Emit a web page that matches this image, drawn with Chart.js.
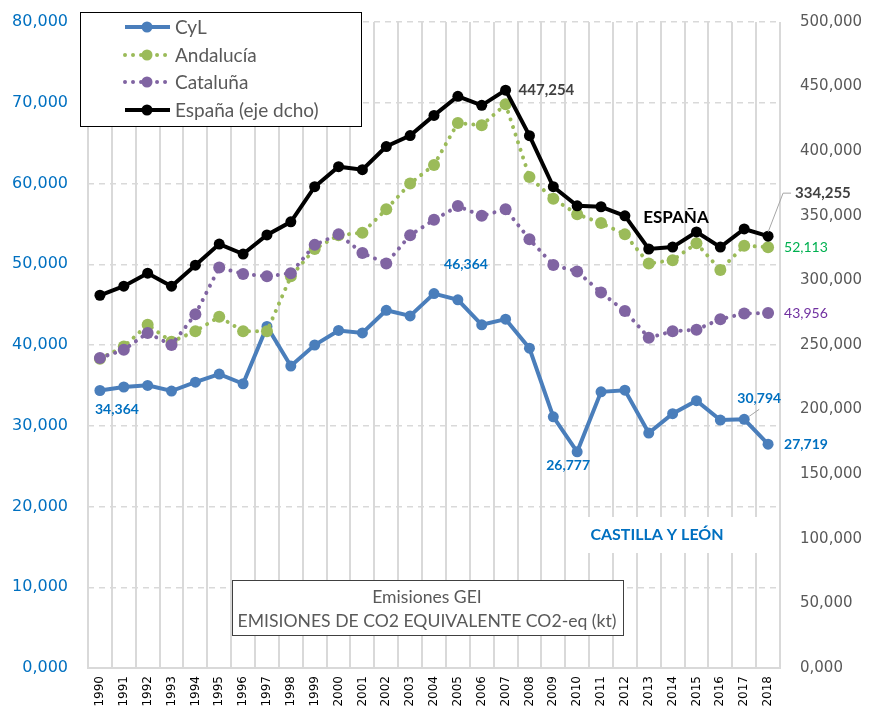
<!DOCTYPE html>
<html>
<head>
<meta charset="utf-8">
<script src="https://cdn.jsdelivr.net/npm/chart.js@4.4.1/dist/chart.umd.min.js"></script>
<style>
  html, body { margin: 0; padding: 0; background: #fff; }
</style>
</head>
<body>
<canvas id="chart" width="870" height="706"></canvas>
<script>
// ---- data (kt CO2-eq) ----
const years = ["1990","1991","1992","1993","1994","1995","1996","1997","1998","1999",
  "2000","2001","2002","2003","2004","2005","2006","2007","2008","2009",
  "2010","2011","2012","2013","2014","2015","2016","2017","2018"];

const cyl = [34364, 34800, 35000, 34300, 35400, 36400, 35200, 42300, 37400, 40000,
  41800, 41500, 44300, 43600, 46364, 45600, 42500, 43200, 39600, 31100,
  26777, 34200, 34400, 29100, 31500, 33100, 30700, 30794, 27719];

const andalucia = [38300, 39800, 42500, 40400, 41700, 43500, 41700, 41700, 48500, 51900,
  53600, 53900, 56800, 60000, 62300, 67500, 67200, 69800, 60800, 58100,
  56200, 55100, 53700, 50100, 50500, 52600, 49300, 52300, 52113];

const cataluna = [38400, 39400, 41500, 40000, 43800, 49600, 48800, 48500, 48900, 52400,
  53700, 51400, 50100, 53600, 55500, 57200, 56000, 56800, 53100, 49900,
  49100, 46500, 44200, 40900, 41700, 41900, 43200, 43900, 43956];

const espana = [288500, 295500, 305600, 295500, 311800, 328100, 320400, 335200, 345300, 372500,
  388000, 385700, 403600, 412100, 427700, 442500, 435500, 447254, 412000, 372500,
  357700, 357000, 350000, 324300, 325800, 337500, 325800, 339800, 334255];

const seriesNames = ["CyL", "Andalucía", "Cataluña", "España (eje dcho)"];
const leftTicks = [0, 80000, 10000];    // min, max, step
const rightTicks = [0, 500000, 50000];
const titleLines = ["Emisiones GEI", "EMISIONES DE CO2 EQUIVALENTE CO2-eq (kt)"];

const fmt = v => v === 0 ? "0,000" : v.toLocaleString("en-US");

// ---- decorations: legend, title box, value labels ----
const decor = {
  id: "decor",
  afterDraw(chart) {
    const ctx = chart.ctx;
    const pt = (d, i) => chart.getDatasetMeta(d).data[i];
    ctx.save();

    // white patch behind CASTILLA Y LEÓN
    ctx.fillStyle = "#fff";
    ctx.fillRect(577, 517, 192, 36);
    ctx.font = "bold 16px Lato";
    ctx.fillStyle = "#0070C0";
    ctx.textAlign = "center";
    ctx.textBaseline = "middle";
    ctx.fillText("CASTILLA Y LEÓN", 657, 535);

    ctx.font = "bold 17px Lato";
    ctx.fillStyle = "#000";
    ctx.fillText("ESPAÑA", 676, 218);

    // value labels
    function label(d, i, dx, dy, color, font, align) {
      const p = pt(d, i);
      const v = chart.data.datasets[d].data[i];
      ctx.font = font;
      ctx.fillStyle = color;
      ctx.textAlign = align || "center";
      ctx.fillText(v.toLocaleString("en-US"), p.x + dx, p.y + dy);
    }
    const blueFont = "bold 14px Lato";
    label(0, 0, 17, 19, "#0070C0", blueFont);
    label(0, 14, 32, -29, "#0070C0", blueFont);
    label(0, 20, -9, 14, "#0070C0", blueFont);
    label(0, 27, 15, -21, "#0070C0", blueFont);
    label(0, 28, 16, 0, "#0070C0", blueFont, "left");
    label(1, 28, 16, 0, "#00B050", "14px Lato", "left");
    label(2, 28, 16, 0, "#7030A0", "14px Lato", "left");
    label(3, 17, 13, 0, "#404040", "bold 15px Lato", "left");
    label(3, 28, 27, -43, "#404040", "bold 15px Lato", "left");

    // leader lines
    ctx.strokeStyle = "#a6a6a6";
    ctx.lineWidth = 1;
    ctx.setLineDash([]);
    let p = pt(0, 27);
    ctx.beginPath(); ctx.moveTo(p.x + 5, p.y - 3); ctx.lineTo(p.x + 15, p.y - 10); ctx.stroke();
    p = pt(3, 28);
    ctx.beginPath(); ctx.moveTo(p.x, p.y - 4); ctx.lineTo(p.x + 15, p.y - 43); ctx.lineTo(p.x + 23, p.y - 43); ctx.stroke();

    // legend
    ctx.fillStyle = "#fff";
    ctx.fillRect(80, 12, 281, 114);
    ctx.strokeStyle = "#000";
    ctx.lineWidth = 1;
    ctx.strokeRect(80.5, 12.5, 281, 114);
    const rows = [27, 55, 82, 110];
    chart.data.datasets.forEach((ds, k) => {
      const y = rows[k];
      ctx.strokeStyle = ds.borderColor;
      ctx.lineWidth = ds.borderWidth;
      ctx.lineCap = ds.borderCapStyle || "butt";
      ctx.setLineDash(ds.borderDash || []);
      ctx.beginPath(); ctx.moveTo(125, y); ctx.lineTo(170, y); ctx.stroke();
      ctx.setLineDash([]);
      ctx.fillStyle = ds.pointBackgroundColor;
      ctx.beginPath(); ctx.arc(147, y, 5.5, 0, Math.PI * 2); ctx.fill();
      ctx.fillStyle = "#595959";
      ctx.font = "19px Lato";
      ctx.textAlign = "left";
      ctx.fillText(ds.label, 175, y + 1);
    });

    // title box
    ctx.fillStyle = "#fff";
    ctx.fillRect(232, 580, 391, 55);
    ctx.strokeStyle = "#404040";
    ctx.lineWidth = 1;
    ctx.strokeRect(232.5, 580.5, 391, 55);
    ctx.fillStyle = "#595959";
    ctx.font = "17.6px Lato";
    ctx.textAlign = "center";
    ctx.fillText(titleLines[0], 427, 597);
    ctx.fillText(titleLines[1], 427, 621);

    ctx.restore();
  }
};

function lineSet(label, data, color, axis, dotted, order) {
  return {
    label: label,
    data: data,
    yAxisID: axis,
    borderColor: color,
    backgroundColor: color,
    pointBackgroundColor: color,
    pointBorderColor: color,
    borderWidth: 4,
    borderDash: dotted ? [0.01, 8] : [],
    borderCapStyle: dotted ? "round" : "butt",
    pointRadius: dotted ? 6 : 5.5,
    pointBorderWidth: 0,
    tension: 0,
    fill: false,
    order: order
  };
}

// fixed axis sizes so the plot area lands where the original one is
const fixY = w => s => { s.width = w; s.paddingTop = 0; s.paddingBottom = 0; };

new Chart(document.getElementById("chart"), {
  type: "line",
  data: {
    labels: years,
    datasets: [
      lineSet(seriesNames[0], cyl, "#4A7EBB", "y", false, 3),
      lineSet(seriesNames[1], andalucia, "#9BBB59", "y", true, 2),
      lineSet(seriesNames[2], cataluna, "#8064A2", "y", true, 1),
      lineSet(seriesNames[3], espana, "#000000", "y1", false, 0)
    ]
  },
  options: {
    responsive: false,
    animation: false,
    layout: { padding: { top: 22, bottom: 0, left: 0, right: 0 } },
    plugins: { legend: { display: false }, tooltip: { enabled: false } },
    scales: {
      x: {
        offset: true,
        grid: { offset: true, color: "#d9d9d9", lineWidth: 2, drawTicks: false },
        border: { color: "#d9d9d9", width: 2 },
        ticks: { color: "#000", font: { family: "DejaVu Sans", size: 12 }, minRotation: 90, maxRotation: 90, padding: 8, autoSkip: false },
        afterFit: s => { s.height = 38; }
      },
      y: {
        position: "left",
        min: leftTicks[0], max: leftTicks[1],
        ticks: { stepSize: leftTicks[2], color: "#0070C0", font: { family: "DejaVu Sans", size: 16 }, padding: 20, callback: fmt },
        grid: { color: "#d9d9d9", lineWidth: 1.5, drawTicks: false },
        border: { display: false, dash: [6, 5] },
        afterFit: fixY(88)
      },
      y1: {
        position: "right",
        min: rightTicks[0], max: rightTicks[1],
        ticks: { stepSize: rightTicks[2], color: "#595959", font: { family: "DejaVu Sans", size: 15 }, padding: 20, callback: fmt },
        grid: { display: false, drawTicks: false },
        border: { display: false },
        afterFit: fixY(90)
      }
    }
  },
  plugins: [decor]
});
</script>
</body>
</html>
